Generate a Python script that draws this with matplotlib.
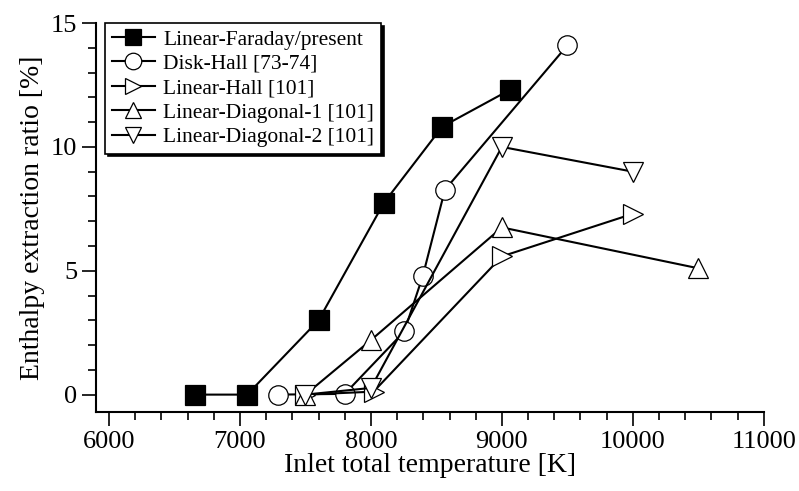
import matplotlib
matplotlib.use("Agg")
import matplotlib.pyplot as plt
from matplotlib.ticker import MultipleLocator

plt.rcParams['font.family'] = ['Liberation Serif', 'DejaVu Serif']

# Linear-Faraday/present
faraday_T = [6660, 7055, 7600, 8100, 8545, 9060]
faraday_eta = [0.0, 0.0, 3.0, 7.75, 10.82, 12.3]

# Disk-Hall [73-74]
disk_T = [7290, 7800, 8255, 8395, 8565, 9500]
disk_eta = [0.0, 0.03, 2.55, 4.77, 8.27, 14.1]

# Linear-Hall [101]
hall_T = [7500, 8020, 9000, 10000]
hall_eta = [0.0, 0.12, 5.58, 7.3]

# Linear-Diagonal-1 [101]
diag1_T = [7500, 8000, 9000, 10500]
diag1_eta = [0.0, 2.2, 6.75, 5.1]

# Linear-Diagonal-2 [101]
diag2_T = [7500, 8000, 9000, 10000]
diag2_eta = [0.0, 0.27, 10.0, 9.0]

series = [
    (faraday_T, faraday_eta, 's', 'black', 'Linear-Faraday/present'),
    (disk_T, disk_eta, 'o', 'white', 'Disk-Hall [73-74]'),
    (hall_T, hall_eta, '>', 'white', 'Linear-Hall [101]'),
    (diag1_T, diag1_eta, '^', 'white', 'Linear-Diagonal-1 [101]'),
    (diag2_T, diag2_eta, 'v', 'white', 'Linear-Diagonal-2 [101]'),
]

fig = plt.figure(figsize=(7.99, 4.91), dpi=100)
ax = fig.add_axes([0.120, 0.161, 0.836, 0.792])

for T, eta, mk, fc, lab in series:
    ax.plot(T, eta, color='black', lw=1.5, marker=mk, markersize=14,
            markerfacecolor=fc, markeredgecolor='black', markeredgewidth=0.9,
            label=lab)

ax.set_xlim(5900, 11000)
ax.set_ylim(-0.7, 15)
ax.xaxis.set_major_locator(MultipleLocator(1000))
ax.xaxis.set_minor_locator(MultipleLocator(200))
ax.yaxis.set_major_locator(MultipleLocator(5))
ax.yaxis.set_minor_locator(MultipleLocator(1))

for side in ['top', 'right']:
    ax.spines[side].set_visible(False)
for side in ['left', 'bottom']:
    ax.spines[side].set_linewidth(1.5)

ax.tick_params(which='major', direction='out', length=10, width=1.2, labelsize=19)
ax.tick_params(which='minor', direction='out', length=5.5, width=1.2)

ax.set_xlabel('Inlet total temperature [K]', fontsize=20, labelpad=0)
ax.set_ylabel('Enthalpy extraction ratio [%]', fontsize=20, labelpad=4)

leg = ax.legend(loc='upper left', bbox_to_anchor=(0.014, 1.0), fontsize=15.5,
                markerscale=0.85, handlelength=2.0, handletextpad=0.4,
                labelspacing=0.2, borderpad=0.3, borderaxespad=0.0,
                fancybox=False, edgecolor='black', framealpha=1,
                shadow={'color': 'black', 'alpha': 1, 'ox': 2, 'oy': -2})
leg.get_frame().set_linewidth(1.2)

fig.savefig('out.png', dpi=100)
